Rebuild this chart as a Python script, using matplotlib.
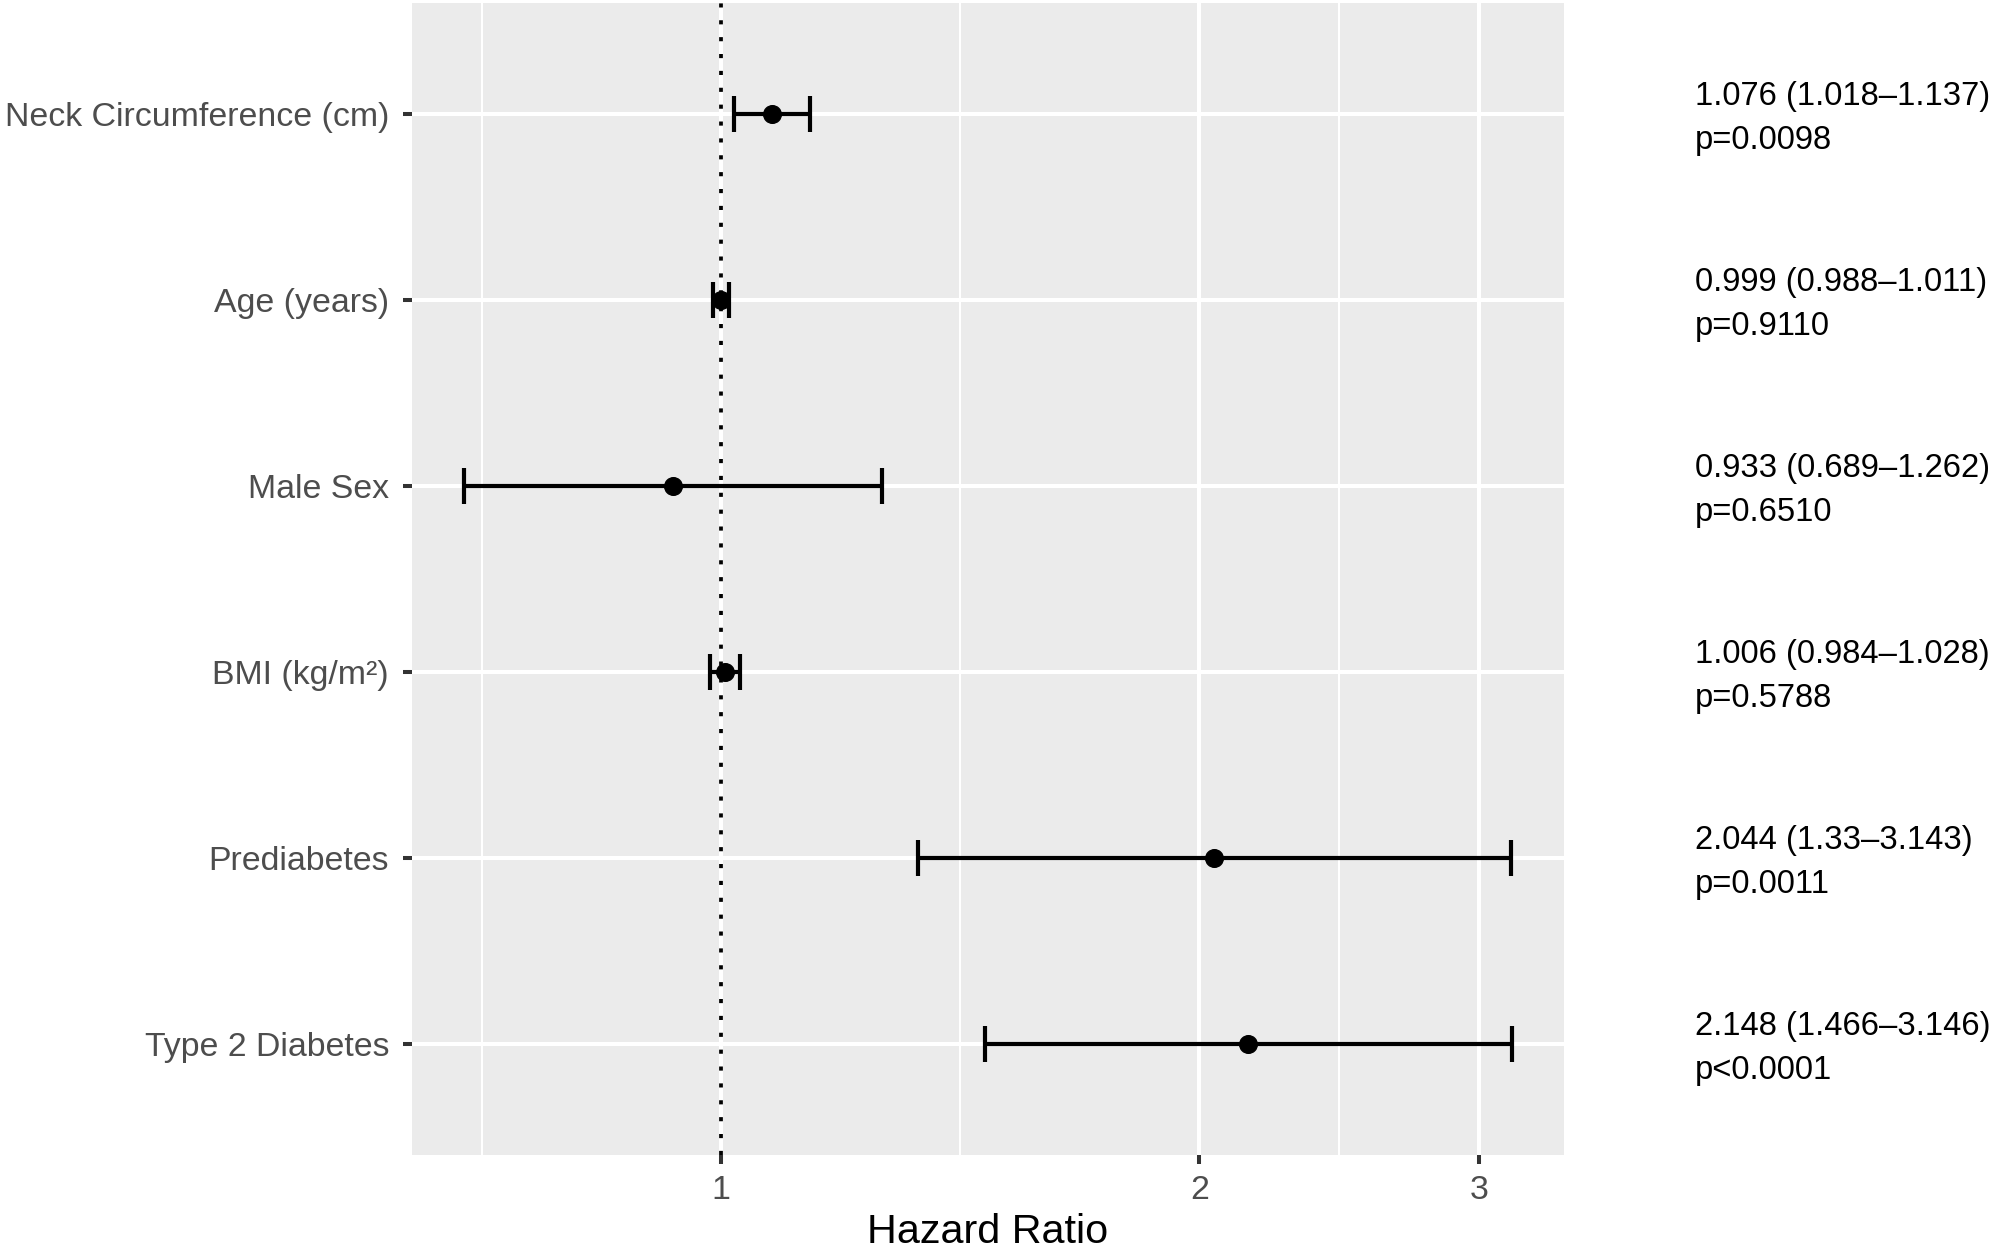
import numpy as np
import matplotlib
matplotlib.use("Agg")
import matplotlib.pyplot as plt
from matplotlib.ticker import FixedLocator, FixedFormatter, NullFormatter

plt.rcParams['font.family'] = ['Liberation Sans', 'DejaVu Sans']

# ---- data ----
labels = ["Neck Circumference (cm)", "Age (years)", "Male Sex",
          "BMI (kg/m²)", "Prediabetes", "Type 2 Diabetes"]
hr = [1.076, 0.999, 0.933, 1.006, 2.044, 2.148]
lo = [1.018, 0.988, 0.689, 0.984, 1.33, 1.466]
hi = [1.137, 1.011, 1.262, 1.028, 3.143, 3.146]
pvals = ["p=0.0098", "p=0.9110", "p=0.6510", "p=0.5788", "p=0.0011", "p<0.0001"]
x_breaks = [1, 2, 3]
x_break_labels = ["1", "2", "3"]

hr_a = np.array(hr)
lo_a = np.array(lo)
hi_a = np.array(hi)
n = len(labels)
ypos = np.arange(n)

W, H = 2000, 1248
fig = plt.figure(figsize=(W / 100, H / 100), dpi=100)
L, R, T, B = 412, 1564, 3, 1155
ax = fig.add_axes([L / W, (H - B) / H, (R - L) / W, (B - T) / H])
ax.set_facecolor('#EBEBEB')
for s in ax.spines.values():
    s.set_visible(False)

ax.set_xscale('log')
lmin, lmax = np.log(lo_a.min()), np.log(hi_a.max())
pad = 0.05 * (lmax - lmin)
ax.set_xlim(np.exp(lmin - pad), np.exp(lmax + pad))
ax.set_ylim(n - 1 + 0.6, -0.6)

# ticks
ax.xaxis.set_major_locator(FixedLocator(x_breaks))
ax.xaxis.set_major_formatter(FixedFormatter(x_break_labels))
minor = [np.sqrt(0.5 * 1), np.sqrt(1 * 2), np.sqrt(2 * 3)]
ax.xaxis.set_minor_locator(FixedLocator(minor))
ax.xaxis.set_minor_formatter(NullFormatter())
ax.set_yticks(ypos)
ax.set_yticklabels(labels)

ax.tick_params(axis='both', which='major', length=6.5, width=2.9,
               color='#333333', labelsize=24.4, labelcolor='#4D4D4D')
ax.tick_params(axis='y', which='major', pad=10)
ax.tick_params(axis='x', which='major', pad=8)
ax.tick_params(axis='x', which='minor', length=0)

ax.set_axisbelow(True)
ax.grid(which='major', axis='both', color='white', lw=2.9)
ax.grid(which='minor', axis='x', color='white', lw=1.45)

ax.axvline(1, color='black', lw=2.7, linestyle=(0, (1.1, 3.4)),
           dash_capstyle='butt', zorder=2)

ax.errorbar(hr_a, ypos, xerr=[hr_a - lo_a, hi_a - hr_a], fmt='o',
            color='black', ms=12.7, elinewidth=3.0, capsize=13.2,
            capthick=3.0, zorder=3)

ax.set_xlabel('Hazard Ratio', fontsize=29.8, color='black', labelpad=5)

# right-hand annotations
for i in range(n):
    line1 = f"{hr[i]:g} ({lo[i]:g}\u2013{hi[i]:g})"
    ax.annotate(line1, xy=(1695 / W, ypos[i]),
                xycoords=('figure fraction', 'data'),
                xytext=(0, 9), textcoords='offset pixels',
                ha='left', va='baseline', fontsize=23.6, color='black',
                annotation_clip=False)
    ax.annotate(pvals[i], xy=(1695 / W, ypos[i]),
                xycoords=('figure fraction', 'data'),
                xytext=(0, -35), textcoords='offset pixels',
                ha='left', va='baseline', fontsize=23.6, color='black',
                annotation_clip=False)

fig.savefig('out.png', dpi=100)
